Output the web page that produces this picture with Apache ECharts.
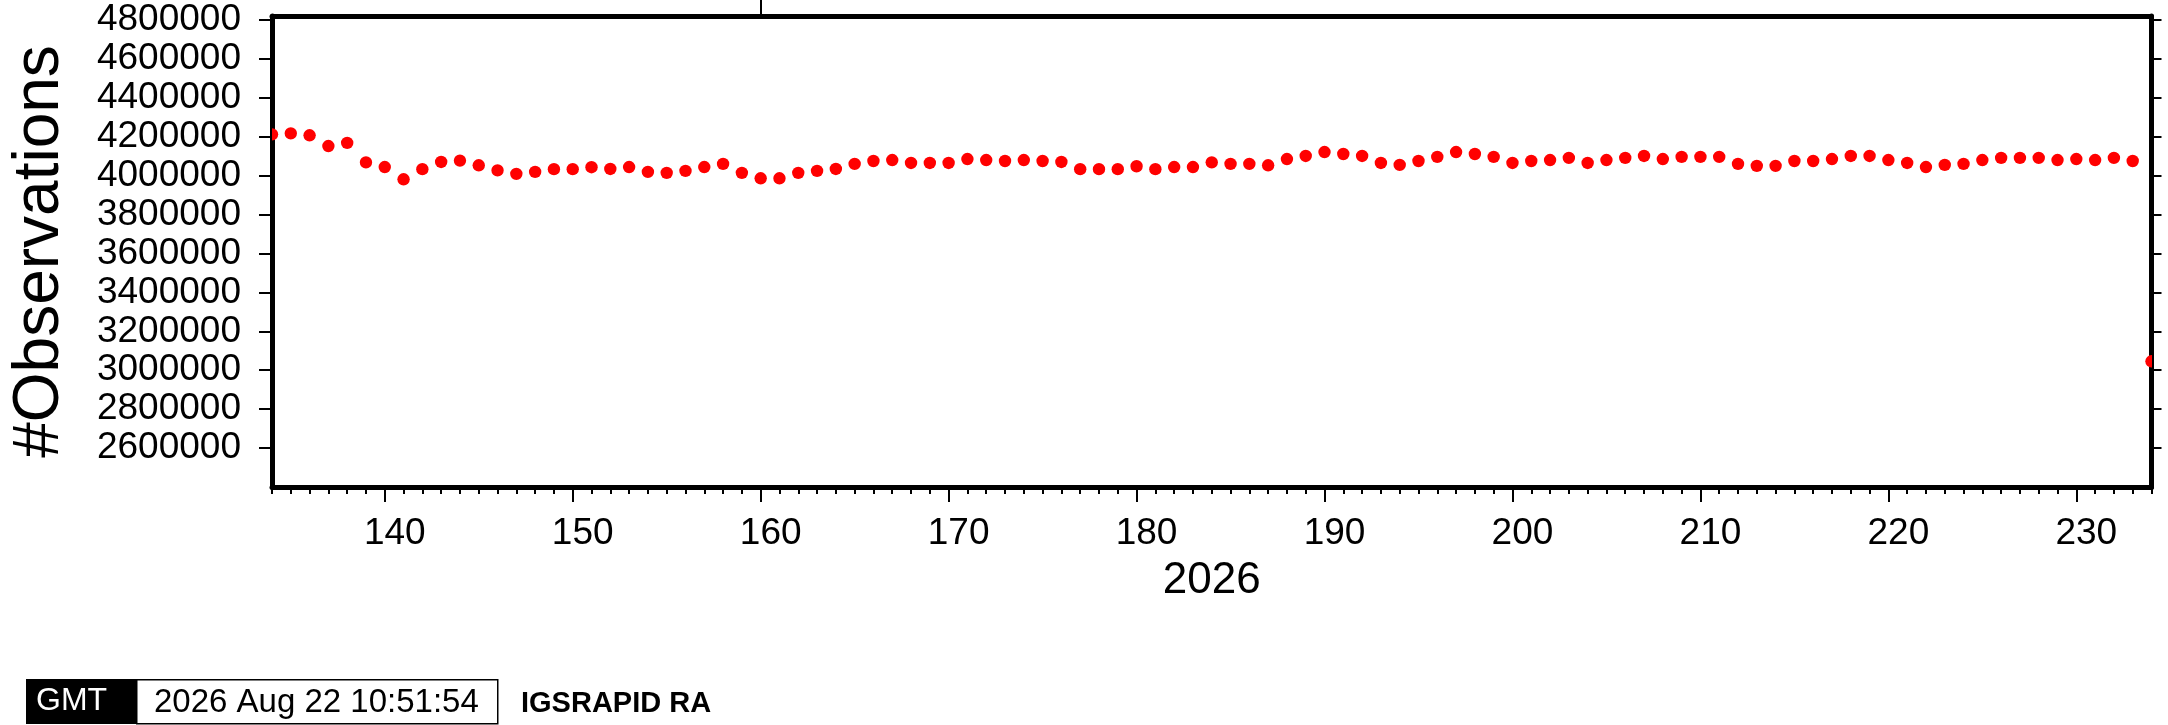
<!DOCTYPE html>
<html>
<head>
<meta charset="utf-8">
<script src="https://cdn.jsdelivr.net/npm/echarts@6/dist/echarts.min.js"></script>
<style>
html,body{margin:0;padding:0;background:#fff;}
#chart{width:2168px;height:725px;}
</style>
</head>
<body>
<div id="chart"></div>
<script>
// Day of year 2026
const DAYS = [];
for (let d = 134; d <= 234; d++) DAYS.push(d);

const OBS = [
  4212000, 4217000, 4207000, 4152000, 4168000, 4068000, 4044000, 3981000, 4033000, 4070000,
  4077000, 4053000, 4027000, 4009000, 4019000, 4033000, 4033000, 4043000, 4034000, 4044000,
  4019000, 4014000, 4024000,
  4044000, 4060000, 4014000, 3986000, 3986000, 4014000, 4024000, 4034000, 4060000, 4075000,
  4080000, 4065000, 4065000, 4065000, 4085000, 4080000, 4075000, 4080000, 4075000, 4070000,
  4033000, 4033000, 4033000, 4048000, 4033000, 4044000, 4044000, 4068000,
  4060000, 4060000, 4053000, 4085000, 4101000, 4121000, 4111000, 4101000, 4065000, 4055000,
  4075000, 4096000, 4121000, 4111000, 4096000, 4065000, 4075000, 4080000, 4091000, 4065000,
  4080000, 4091000, 4101000, 4085000, 4096000, 4096000, 4096000,
  4060000, 4050000, 4050000, 4075000, 4075000, 4085000, 4101000, 4101000, 4080000, 4065000,
  4044000, 4055000, 4060000, 4080000, 4091000, 4091000, 4091000, 4080000, 4085000, 4080000,
  4091000, 4075000,
  3046000
];

const X_LABELS = [140, 150, 160, 170, 180, 190, 200, 210, 220, 230];
const TOP_TICKS = [160];
const Y_TICKS = [2600000, 2800000, 3000000, 3200000, 3400000, 3600000, 3800000,
                 4000000, 4200000, 4400000, 4600000, 4800000];
const X_NAME = '2026';
const Y_NAME = '#Observations';
const STAMP = '2026 Aug 22 10:51:54';
const LABEL_RIGHT = 'IGSRAPID RA';

const FONT = '"Liberation Sans", Arial, Helvetica, sans-serif';
const chart = echarts.init(document.getElementById('chart'), null, {renderer: 'canvas'});

const data = DAYS.map((d, i) => [d, OBS[i]]);
const thick = {show: true, lineStyle: {color: '#000', width: 5}};

const option = {
  backgroundColor: '#fff',
  animation: false,
  grid: {left: 263, right: 16.5, top: 16, bottom: 238, containLabel: false},
  xAxis: [
    {
      type: 'value', position: 'bottom', min: 134, max: 234, interval: 1,
      axisLine: thick,
      axisTick: {show: true, length: 7, lineStyle: {color: '#000', width: 2}},
      axisLabel: {show: false}, splitLine: {show: false}
    },
    {
      type: 'value', position: 'bottom', min: 134, max: 234, interval: 1,
      axisLine: {show: false},
      axisTick: {show: true, customValues: X_LABELS, length: 15, lineStyle: {color: '#000', width: 2}},
      axisLabel: {show: true, customValues: X_LABELS, fontSize: 37, fontFamily: FONT, color: '#000',
                  margin: 28, padding: [0, 0, 0, 20]},
      splitLine: {show: false},
      name: X_NAME, nameLocation: 'middle', nameGap: 72,
      nameTextStyle: {fontSize: 44, fontFamily: FONT, color: '#000'}
    },
    {
      type: 'value', position: 'top', min: 134, max: 234, interval: 1,
      axisLine: thick,
      axisTick: {show: true, customValues: TOP_TICKS, length: 16, lineStyle: {color: '#000', width: 2}},
      axisLabel: {show: false}, splitLine: {show: false}
    }
  ],
  yAxis: [
    {
      type: 'value', position: 'left', min: 2400000, max: 4820000, interval: 200000,
      axisLine: thick,
      axisTick: {show: true, customValues: Y_TICKS, length: 13, lineStyle: {color: '#000', width: 2}},
      axisLabel: {show: true, customValues: Y_TICKS, fontSize: 37, fontFamily: FONT, color: '#000', margin: 31,
                  formatter: v => String(v)},
      splitLine: {show: false},
      name: Y_NAME, nameLocation: 'middle', nameGap: 200,
      nameTextStyle: {fontSize: 64, fontFamily: FONT, color: '#000'}
    },
    {
      type: 'value', position: 'right', min: 2400000, max: 4820000, interval: 200000,
      axisLine: thick,
      axisTick: {show: true, customValues: Y_TICKS, length: 10, lineStyle: {color: '#000', width: 2}},
      axisLabel: {show: false}, splitLine: {show: false}
    }
  ],
  series: [{
    type: 'custom', xAxisIndex: 0, yAxisIndex: 0, clip: true, z: 1,
    data: data,
    encode: {x: 0, y: 1},
    renderItem: function (params, api) {
      const p = api.coord([api.value(0), api.value(1)]);
      return {
        type: 'circle',
        shape: {cx: p[0], cy: p[1], r: 6.2},
        style: {fill: '#ff0000'}
      };
    }
  }],
  graphic: [
    {type: 'rect', left: 26, top: 679, shape: {width: 110, height: 45}, style: {fill: '#000'}},
    {type: 'text', left: 36, top: 685, style: {text: 'GMT', fill: '#fff', font: '32px ' + FONT}},
    {type: 'rect', left: 136, top: 679, shape: {width: 361, height: 44}, style: {fill: '#fff', stroke: '#000', lineWidth: 1.5}},
    {type: 'text', left: 154, top: 686, style: {text: STAMP, fill: '#000', font: '33px ' + FONT}},
    {type: 'text', left: 521, top: 689, style: {text: LABEL_RIGHT, fill: '#000', font: 'bold 29px ' + FONT}}
  ]
};
chart.setOption(option);
</script>
</body>
</html>
